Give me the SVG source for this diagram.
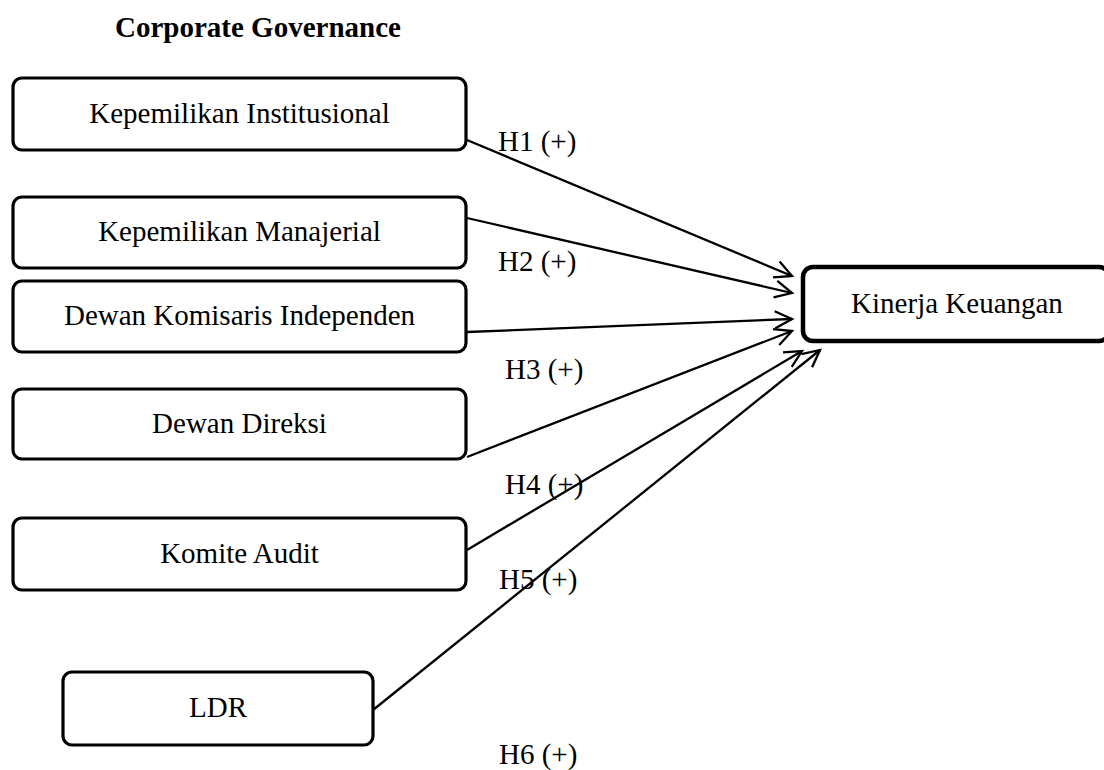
<svg xmlns="http://www.w3.org/2000/svg" width="1104" height="770" viewBox="0 0 1104 770">
<style>
.box{fill:#fff;stroke:#000;stroke-width:3.2}
.main{fill:#fff;stroke:#000;stroke-width:4.5}
.t{font-family:"Liberation Serif","Times New Roman",serif;font-size:29px;fill:#000;text-anchor:middle}
.lbl{font-family:"Liberation Serif","Times New Roman",serif;font-size:29px;fill:#000}
.title{font-family:"Liberation Serif","Times New Roman",serif;font-size:29px;font-weight:bold;fill:#000}
.c{stroke:#000;stroke-width:2.3;fill:none;marker-end:url(#ah)}
</style>
<defs>
<marker id="ah" markerUnits="userSpaceOnUse" markerWidth="24" markerHeight="24" viewBox="-20 -12 24 24" refX="0" refY="0" orient="auto">
<path d="M-17,-8.5 L0,0 L-17,8.5" fill="none" stroke="#000" stroke-width="2.3"/>
</marker>
</defs>
<text class="title" x="115" y="37">Corporate Governance</text>
<g id="n1"><rect class="box" x="13" y="78" width="453" height="72" rx="9"/><text class="t" x="239.5" y="123">Kepemilikan Institusional</text></g>
<g id="n2"><rect class="box" x="13" y="197" width="453" height="71" rx="9"/><text class="t" x="239.5" y="241">Kepemilikan Manajerial</text></g>
<g id="n3"><rect class="box" x="13" y="281" width="453" height="71" rx="9"/><text class="t" x="239.5" y="325">Dewan Komisaris Independen</text></g>
<g id="n4"><rect class="box" x="13" y="389" width="453" height="70" rx="9"/><text class="t" x="239.5" y="433">Dewan Direksi</text></g>
<g id="n5"><rect class="box" x="13" y="518" width="453" height="72" rx="9"/><text class="t" x="239.5" y="563">Komite Audit</text></g>
<g id="n6"><rect class="box" x="63" y="672" width="310" height="73" rx="9"/><text class="t" x="218" y="717">LDR</text></g>
<g id="n7"><rect class="main" x="803" y="267" width="306" height="74" rx="10"/><text class="t" x="957" y="313">Kinerja Keuangan</text></g>
<g id="connectors">
<line class="c" x1="467" y1="140" x2="792" y2="276"/>
<line class="c" x1="467" y1="218" x2="792" y2="293"/>
<line class="c" x1="467" y1="332" x2="792" y2="319"/>
<line class="c" x1="467" y1="457" x2="792" y2="331"/>
<line class="c" x1="467" y1="550" x2="802" y2="351"/>
<line class="c" x1="373" y1="710" x2="820" y2="350"/>
<text class="lbl" x="498" y="151">H1 (+)</text>
<text class="lbl" x="498" y="271">H2 (+)</text>
<text class="lbl" x="505" y="379">H3 (+)</text>
<text class="lbl" x="505" y="494">H4 (+)</text>
<text class="lbl" x="499" y="589">H5 (+)</text>
<text class="lbl" x="499" y="764">H6 (+)</text>
</g>
</svg>
